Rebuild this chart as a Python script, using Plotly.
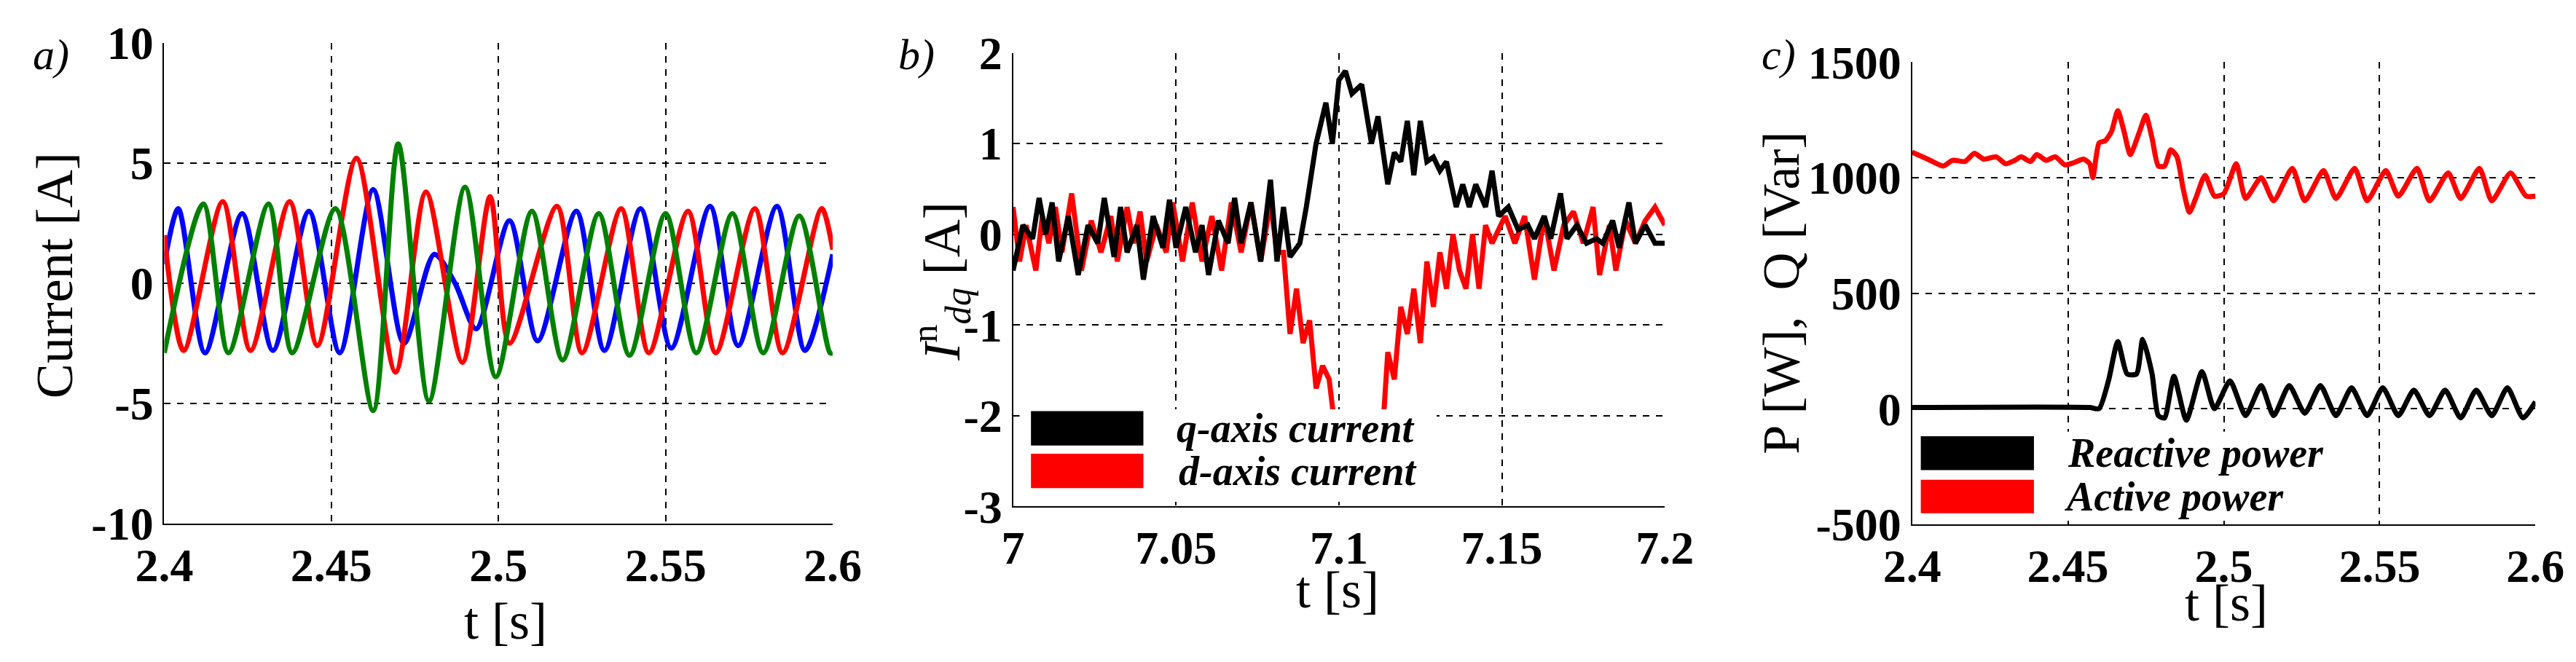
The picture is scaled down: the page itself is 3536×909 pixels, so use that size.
import plotly.graph_objects as go

# panel a: three phase currents (key points)
t_blue = [2.4, 2.4042, 2.4122, 2.4233, 2.4325, 2.4433, 2.4525, 2.4625, 2.4717, 2.4808, 2.487, 2.4933,
          2.5033, 2.5117, 2.5233, 2.5317, 2.5425, 2.5517, 2.5633, 2.5717, 2.5833, 2.5917, 2.6]
i_blue = [0.8, 3.1, -2.9, 2.9, -2.8, 3.0, -2.9, 3.9, -2.5, 1.2, 0.0, -1.9,
          2.6, -2.4, 3.0, -2.8, 3.1, -2.7, 3.2, -2.6, 3.2, -2.8, 1.2]
t_red = [2.4, 2.4058, 2.4175, 2.4258, 2.4375, 2.4458, 2.4575, 2.4692, 2.4783, 2.4892, 2.4975, 2.5033,
         2.5175, 2.525, 2.5367, 2.545, 2.5567, 2.565, 2.5767, 2.585, 2.5967, 2.6]
i_red = [2.0, -2.8, 3.4, -2.8, 3.4, -2.6, 5.2, -3.7, 3.8, -3.3, 3.6, -2.5,
         3.2, -2.9, 3.1, -2.9, 3.0, -2.9, 3.1, -2.9, 3.1, 1.4]
t_green = [2.4, 2.4117, 2.4192, 2.4312, 2.4383, 2.4512, 2.4625, 2.47, 2.4792, 2.49, 2.4992, 2.51,
           2.5192, 2.53, 2.5392, 2.55, 2.5592, 2.57, 2.5792, 2.59, 2.5992, 2.6]
i_green = [-2.9, 3.3, -2.9, 3.3, -2.9, 3.1, -5.3, 5.8, -4.9, 4.0, -3.9, 3.0,
           -3.2, 2.9, -3.0, 2.9, -2.9, 2.9, -2.9, 2.8, -2.9, -2.9]

# panel b: negative sequence dq currents
t_q = [7.000, 7.003, 7.006, 7.008, 7.010, 7.012, 7.014, 7.017, 7.020, 7.023, 7.026, 7.028, 7.031, 7.033,
       7.035, 7.038, 7.040, 7.043, 7.046, 7.048, 7.050, 7.053, 7.056, 7.058, 7.060, 7.063, 7.066, 7.068,
       7.070, 7.073, 7.076, 7.079, 7.081, 7.083, 7.085, 7.088, 7.090, 7.093, 7.096, 7.098, 7.100, 7.102,
       7.104, 7.107, 7.110, 7.112, 7.115, 7.117, 7.119, 7.121, 7.123, 7.125, 7.127, 7.129, 7.131, 7.133,
       7.136, 7.138, 7.140, 7.142, 7.145, 7.147, 7.149, 7.152, 7.155, 7.158, 7.160, 7.163, 7.165, 7.168,
       7.170, 7.173, 7.176, 7.179, 7.181, 7.184, 7.186, 7.189, 7.191, 7.194, 7.197, 7.200]
i_q = [-0.4, 0.1, -0.05, 0.4, 0.0, 0.35, -0.3, 0.2, -0.45, 0.1, -0.1, 0.4, -0.25, 0.3,
       -0.2, 0.1, -0.5, 0.2, -0.15, 0.38, -0.15, 0.3, -0.2, 0.1, -0.45, 0.15, -0.1, 0.4,
       -0.1, 0.35, -0.3, 0.6, -0.3, 0.3, -0.25, -0.1, 0.3, 1.0, 1.45, 1.0, 1.7, 1.8,
       1.55, 1.65, 1.0, 1.3, 0.55, 0.9, 0.8, 1.25, 0.65, 1.25, 0.8, 0.85, 0.7, 0.8,
       0.3, 0.55, 0.3, 0.55, 0.3, 0.7, 0.2, 0.3, 0.05, 0.1, -0.05, 0.2, -0.05, 0.45,
       -0.05, 0.1, -0.1, -0.05, -0.1, 0.15, -0.15, 0.35, -0.1, 0.1, -0.1, -0.1]
t_d = [7.000, 7.002, 7.004, 7.007, 7.009, 7.011, 7.013, 7.015, 7.018, 7.021, 7.024, 7.027, 7.030, 7.032,
       7.035, 7.037, 7.039, 7.041, 7.044, 7.047, 7.049, 7.052, 7.055, 7.058, 7.061, 7.064, 7.067, 7.070,
       7.073, 7.076, 7.079, 7.081, 7.083, 7.085, 7.087, 7.089, 7.091, 7.093, 7.095, 7.097, 7.100, 7.113,
       7.115, 7.117, 7.119, 7.121, 7.123, 7.125, 7.127, 7.129, 7.131, 7.133, 7.135, 7.137, 7.139, 7.141,
       7.143, 7.145, 7.147, 7.149, 7.151, 7.154, 7.157, 7.160, 7.163, 7.166, 7.169, 7.172, 7.175, 7.178,
       7.180, 7.183, 7.185, 7.188, 7.191, 7.194, 7.197, 7.200]
i_d = [0.3, -0.3, 0.1, -0.4, 0.2, -0.1, 0.3, -0.2, 0.45, -0.4, 0.15, -0.2, 0.2, -0.3,
       0.3, -0.1, 0.25, -0.3, 0.1, -0.2, 0.35, -0.3, 0.35, -0.3, 0.2, -0.4, 0.35, -0.2,
       0.35, -0.3, 0.35, -0.2, -0.2, -1.1, -0.6, -1.2, -0.95, -1.7, -1.45, -1.6, -2.5, -2.4,
       -1.3, -1.6, -0.8, -1.1, -0.6, -1.2, -0.3, -0.8, -0.2, -0.6, 0.0, -0.4, -0.6, 0.0,
       -0.6, 0.1, -0.1, 0.05, 0.2, -0.1, 0.2, -0.5, 0.2, -0.4, 0.1, 0.25, -0.1, 0.3,
       -0.45, 0.1, -0.4, 0.15, -0.1, 0.15, 0.3, 0.1]

# panel c: active and reactive power
t_p = [2.4, 2.405, 2.41, 2.413, 2.417, 2.42, 2.423, 2.427, 2.43, 2.433, 2.435, 2.438, 2.44, 2.443,
       2.446, 2.449, 2.452, 2.455, 2.457, 2.458, 2.46, 2.462, 2.464, 2.466, 2.468, 2.47, 2.473, 2.475,
       2.477, 2.479, 2.481, 2.483, 2.485, 2.487, 2.489, 2.491, 2.494, 2.497, 2.5, 2.504, 2.507, 2.512,
       2.516, 2.522, 2.526, 2.532, 2.536, 2.542, 2.546, 2.552, 2.556, 2.562, 2.566, 2.572, 2.576, 2.582,
       2.586, 2.592, 2.597, 2.6]
p_active = [1110, 1080, 1050, 1075, 1070, 1105, 1080, 1090, 1060, 1075, 1090, 1070, 1100, 1075,
            1090, 1055, 1065, 1080, 1060, 1000, 1150, 1160, 1200, 1290, 1200, 1100, 1200, 1270,
            1170, 1050, 1050, 1120, 1090, 950, 850, 910, 1010, 920, 930, 1060, 910, 1000,
            900, 1040, 900, 1030, 910, 1040, 900, 1030, 920, 1040, 900, 1020, 910, 1040,
            900, 1020, 920, 920]
t_q2 = [2.4, 2.457, 2.46, 2.463, 2.466, 2.469, 2.472, 2.474, 2.477, 2.479, 2.481, 2.484, 2.488, 2.493,
        2.497, 2.502, 2.507, 2.512, 2.516, 2.521, 2.526, 2.531, 2.536, 2.541, 2.546, 2.551, 2.556, 2.561,
        2.566, 2.571, 2.576, 2.581, 2.586, 2.591, 2.596, 2.6]
q_reactive = [5, 5, 0, 120, 290, 150, 150, 300, 150, -30, -40, 140, -50, 160,
              0, 120, -30, 100, -30, 100, -20, 100, -30, 90, -30, 90, -30, 80,
              -30, 80, -40, 80, -30, 90, -40, 30]

ticks_a = [2.4, 2.45, 2.5, 2.55, 2.6]
ticks_b = [7.0, 7.05, 7.1, 7.15, 7.2]
labels_a = ["2.4", "2.45", "2.5", "2.55", "2.6"]
labels_b = ["7", "7.05", "7.1", "7.15", "7.2"]

FONT = "Liberation Serif"
W = 7


def bold(lst):
    return ["<b>%s</b>" % s for s in lst]


fig = go.Figure()
for t, v, c in [(t_blue, i_blue, "blue"), (t_red, i_red, "red"), (t_green, i_green, "green")]:
    fig.add_trace(go.Scatter(x=t, y=v, mode="lines", line=dict(color=c, width=W, shape="spline", smoothing=0.8),
                             xaxis="x", yaxis="y", showlegend=False))
fig.add_trace(go.Scatter(x=t_d, y=i_d, mode="lines", line=dict(color="red", width=W), xaxis="x2", yaxis="y2", showlegend=False))
fig.add_trace(go.Scatter(x=t_q, y=i_q, mode="lines", line=dict(color="black", width=W), xaxis="x2", yaxis="y2", showlegend=False))
fig.add_trace(go.Scatter(x=t_p, y=p_active, mode="lines", line=dict(color="red", width=W, shape="spline", smoothing=0.6),
                         xaxis="x3", yaxis="y3", showlegend=False))
fig.add_trace(go.Scatter(x=t_q2, y=q_reactive, mode="lines", line=dict(color="black", width=W, shape="spline", smoothing=0.6),
                         xaxis="x3", yaxis="y3", showlegend=False))

tick = dict(family=FONT, size=64, color="black")
ttl = dict(family=FONT, size=72, color="black")
ax = dict(showgrid=True, gridcolor="black", griddash="dash", gridwidth=1.5, showline=True, linecolor="black",
          linewidth=2, ticks="", zeroline=False, tickfont=tick, mirror=False, automargin=False)

fig.update_layout(
    width=3536, height=909, margin=dict(l=0, r=0, t=0, b=0),
    paper_bgcolor="white", plot_bgcolor="white",
    xaxis=dict(ax, domain=[0.0615, 0.321], range=[2.4, 2.6], tickvals=ticks_a, ticktext=bold(labels_a), anchor="y"),
    yaxis=dict(ax, domain=[0.218, 0.944], range=[-10, 10], tickvals=[-10, -5, 0, 5, 10],
               ticktext=bold(["-10", "-5", "0", "5", "10"]), anchor="x"),
    xaxis2=dict(ax, domain=[0.391, 0.644], range=[7.0, 7.2], tickvals=ticks_b, ticktext=bold(labels_b), anchor="y2"),
    yaxis2=dict(ax, domain=[0.244, 0.929], range=[-3, 2], tickvals=[-3, -2, -1, 0, 1, 2],
                ticktext=bold(["-3", "-2", "-1", "0", "1", "2"]), anchor="x2"),
    xaxis3=dict(ax, domain=[0.740, 0.982], range=[2.4, 2.6], tickvals=ticks_a, ticktext=bold(labels_a), anchor="y3"),
    yaxis3=dict(ax, domain=[0.217, 0.915], range=[-500, 1500], tickvals=[-500, 0, 500, 1000, 1500],
                ticktext=bold(["-500", "0", "500", "1000", "1500"]), anchor="x3"),
)

# legend boxes drawn as shapes, text as annotations
shapes = [
    dict(type="rect", xref="x2", yref="y2", x0=7.002, x1=7.13, y0=-2.95, y1=-1.93, fillcolor="white", line_width=0, layer="above"),
    dict(type="rect", xref="x2", yref="y2", x0=7.0055, x1=7.04, y0=-2.33, y1=-1.95, fillcolor="black", line_width=0, layer="above"),
    dict(type="rect", xref="x2", yref="y2", x0=7.0055, x1=7.04, y0=-2.80, y1=-2.42, fillcolor="red", line_width=0, layer="above"),
    dict(type="rect", xref="x3", yref="y3", x0=2.402, x1=2.52, y0=-480, y1=-100, fillcolor="white", line_width=0, layer="above"),
    dict(type="rect", xref="x3", yref="y3", x0=2.4028, x1=2.4391, y0=-266, y1=-119, fillcolor="black", line_width=0, layer="above"),
    dict(type="rect", xref="x3", yref="y3", x0=2.4028, x1=2.4391, y0=-453, y1=-308, fillcolor="red", line_width=0, layer="above"),
]
lg = dict(family=FONT, size=56, color="black")
annots = [
    dict(xref="x2", yref="y2", x=7.0497, y=-2.14, text="<b><i>q-axis current</i></b>", showarrow=False, xanchor="left", font=lg),
    dict(xref="x2", yref="y2", x=7.0503, y=-2.61, text="<b><i>d-axis current</i></b>", showarrow=False, xanchor="left", font=lg),
    dict(xref="x3", yref="y3", x=2.4494, y=-192, text="<b><i>Reactive power</i></b>", showarrow=False, xanchor="left", font=lg),
    dict(xref="x3", yref="y3", x=2.4485, y=-380, text="<b><i>Active power</i></b>", showarrow=False, xanchor="left", font=lg),
]
# axis titles
for txt, x, y, ang in [
    ("Current [A]", 0.019, 0.593, -90),
    ("<i>I</i><sup>n</sup><sub><i>dq</i></sub> [A]", 0.363, 0.584, -90),
    ("P [W],  Q [Var]", 0.689, 0.566, -90),
    ("t [s]", 0.194, 0.070, 0),
    ("t [s]", 0.517, 0.118, 0),
    ("t [s]", 0.862, 0.098, 0),
]:
    annots.append(dict(xref="paper", yref="paper", x=x, y=y, text=txt, textangle=ang, showarrow=False,
                       xanchor="center", yanchor="middle", font=ttl))
lab = dict(family=FONT, size=60, color="black")
for txt, x in [("a)", 0.010), ("b)", 0.346), ("c)", 0.681)]:
    annots.append(dict(xref="paper", yref="paper", x=x, y=0.965, text="<i>%s</i>" % txt, showarrow=False,
                       xanchor="left", yanchor="top", font=lab))
fig.update_layout(shapes=shapes, annotations=annots)

fig.write_html("out.html")
